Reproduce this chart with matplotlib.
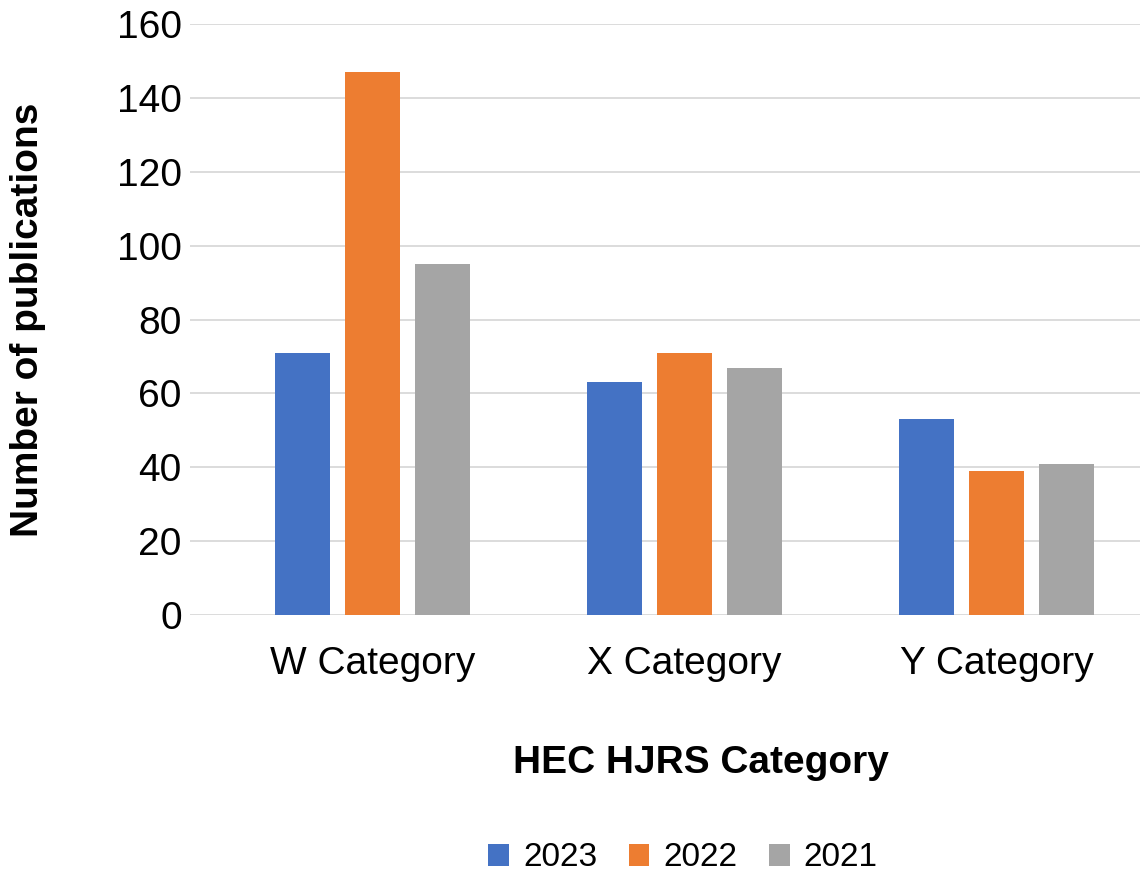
import numpy as np
import matplotlib.pyplot as plt

categories = ['W Category', 'X Category', 'Y Category']
years = ['2023', '2022', '2021']
values_2023 = [71, 63, 53]
values_2022 = [147, 71, 39]
values_2021 = [95, 67, 41]
colors = ['#4472C4', '#ED7D31', '#A5A5A5']

plt.rcParams['font.family'] = ['Liberation Sans', 'DejaVu Sans']

fig = plt.figure(figsize=(11.42, 8.75), dpi=100)
ax = fig.add_axes([190 / 1142, 1 - 615 / 875, (1140 - 190) / 1142, (615 - 24) / 875])

x = np.arange(len(categories))
width = 0.176
step = 0.223
series = [values_2023, values_2022, values_2021]
for i, (vals, c, lab) in enumerate(zip(series, colors, years)):
    ax.bar(x + (i - 1) * step, vals, width, color=c, label=lab, zorder=3)

ax.set_ylim(0, 160)
ax.set_xlim(-0.585, 2.46)
ax.set_yticks(np.arange(0, 161, 20))
ax.set_xticks(x)
ax.set_xticklabels(categories)
ax.tick_params(axis='both', length=0, labelsize=28, colors='#000000')
ax.tick_params(axis='y', pad=6)
ax.tick_params(axis='x', pad=22)
ax.grid(axis='y', color='#d9d9d9', linewidth=1.3, zorder=0)
for s in ax.spines.values():
    s.set_visible(False)

fig.text(701 / 1142, 1 - 763 / 875, 'HEC HJRS Category', ha='center', va='center',
         fontsize=28, fontweight='bold')
fig.text(28 / 1142, 1 - 320 / 875, 'Number of publications', ha='center', va='center',
         rotation=90, fontsize=28, fontweight='bold')

fig.legend(loc='center', bbox_to_anchor=(683 / 1142, 1 - 858 / 875), ncol=3, frameon=False,
           fontsize=24, handlelength=0.62, handleheight=0.62, handletextpad=0.42,
           columnspacing=0.95)

fig.savefig('out.png', dpi=100)
